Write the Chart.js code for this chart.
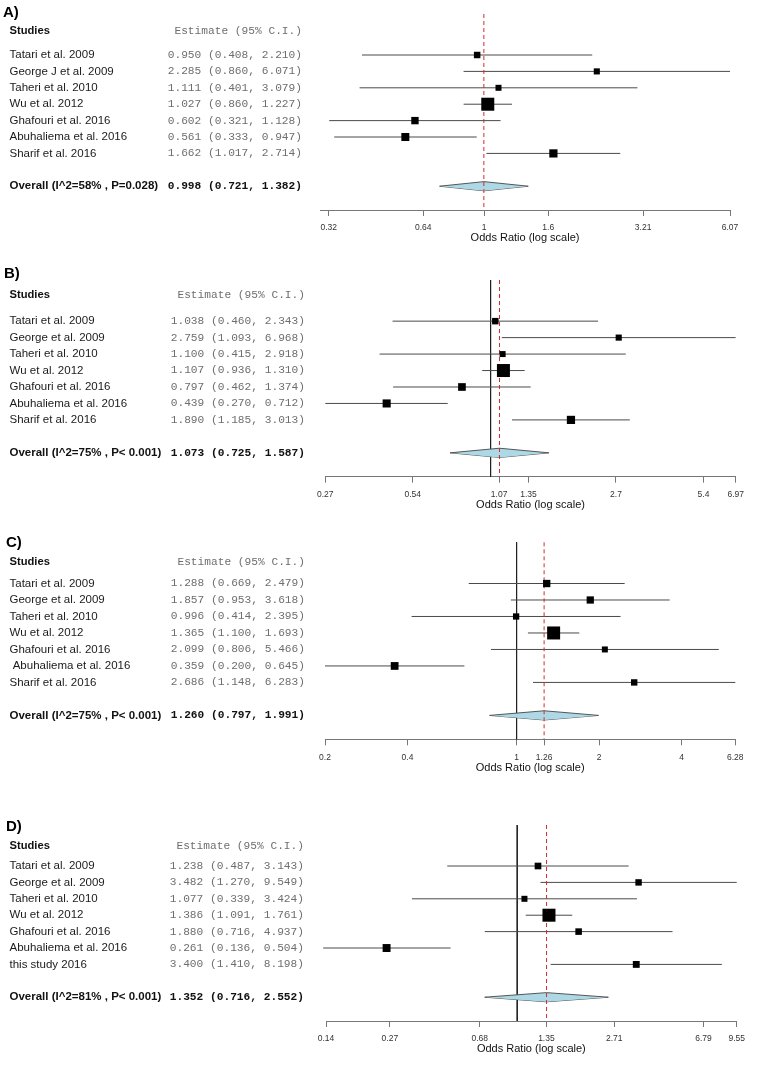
<!DOCTYPE html>
<html>
<head>
<meta charset="utf-8">
<script src="https://cdn.jsdelivr.net/npm/chart.js@4.4.0/dist/chart.umd.min.js"></script>
<style>
html,body{margin:0;padding:0;background:#fff;}
body{width:768px;height:1071px;position:relative;overflow:hidden;}
canvas{position:absolute;left:0;}
</style>
</head>
<body>
<canvas id="cA" width="768" height="262" style="top:0px;width:768px;height:262px"></canvas>
<canvas id="cB" width="768" height="266" style="top:262px;width:768px;height:266px"></canvas>
<canvas id="cC" width="768" height="272" style="top:528px;width:768px;height:272px"></canvas>
<canvas id="cD" width="768" height="271" style="top:800px;width:768px;height:271px"></canvas>
<script>
// ---------------- DATA ----------------
// Panel A
const studiesA = ["Tatari et al. 2009", "George J et al. 2009", "Taheri et al. 2010", "Wu et al. 2012", "Ghafouri et al. 2016", "Abuhaliema et al. 2016", "Sharif et al. 2016"];
const orA = [0.950, 2.285, 1.111, 1.027, 0.602, 0.561, 1.662];
const loA = [0.408, 0.860, 0.401, 0.860, 0.321, 0.333, 1.017];
const hiA = [2.210, 6.071, 3.079, 1.227, 1.128, 0.947, 2.714];
const overallA = [0.998, 0.721, 1.382];
const overallLabelA = "Overall (I^2=58% , P=0.028)";
const ticksA = [0.32, 0.64, 1, 1.6, 3.21, 6.07];

// Panel B
const studiesB = ["Tatari et al. 2009", "George et al. 2009", "Taheri et al. 2010", "Wu et al. 2012", "Ghafouri et al. 2016", "Abuhaliema et al. 2016", "Sharif et al. 2016"];
const orB = [1.038, 2.759, 1.100, 1.107, 0.797, 0.439, 1.890];
const loB = [0.460, 1.093, 0.415, 0.936, 0.462, 0.270, 1.185];
const hiB = [2.343, 6.968, 2.918, 1.310, 1.374, 0.712, 3.013];
const overallB = [1.073, 0.725, 1.587];
const overallLabelB = "Overall (I^2=75% , P< 0.001)";
const ticksB = [0.27, 0.54, 1.07, 1.35, 2.7, 5.4, 6.97];

// Panel C
const studiesC = ["Tatari et al. 2009", "George et al. 2009", "Taheri et al. 2010", "Wu et al. 2012", "Ghafouri et al. 2016", " Abuhaliema et al. 2016", "Sharif et al. 2016"];
const orC = [1.288, 1.857, 0.996, 1.365, 2.099, 0.359, 2.686];
const loC = [0.669, 0.953, 0.414, 1.100, 0.806, 0.200, 1.148];
const hiC = [2.479, 3.618, 2.395, 1.693, 5.466, 0.645, 6.283];
const overallC = [1.260, 0.797, 1.991];
const overallLabelC = "Overall (I^2=75% , P< 0.001)";
const ticksC = [0.2, 0.4, 1, 1.26, 2, 4, 6.28];

// Panel D
const studiesD = ["Tatari et al. 2009", "George et al. 2009", "Taheri et al. 2010", "Wu et al. 2012", "Ghafouri et al. 2016", "Abuhaliema et al. 2016", "this study 2016"];
const orD = [1.238, 3.482, 1.077, 1.386, 1.880, 0.261, 3.400];
const loD = [0.487, 1.270, 0.339, 1.091, 0.716, 0.136, 1.410];
const hiD = [3.143, 9.549, 3.424, 1.761, 4.937, 0.504, 8.198];
const overallD = [1.352, 0.716, 2.552];
const overallLabelD = "Overall (I^2=81% , P< 0.001)";
const ticksD = [0.14, 0.27, 0.68, 1.35, 2.71, 6.79, 9.55];

// ---------------- LAYOUT / STYLE ----------------
const SANS = '"Liberation Sans", Arial, sans-serif';
const MONO = '"Liberation Mono", "Courier New", monospace';
const Y_MAX = 9.5, Y_MIN = -2.45, OVERALL_ROW = -1, DIAMOND_H = 0.28, NAME_X = 9.5;

function fmt(a, b, c) { return a.toFixed(3) + " (" + b.toFixed(3) + ", " + c.toFixed(3) + ")"; }

// box side from inverse-variance weight of each study (derived from its CI)
function boxSides(lo, hi) {
  const s = lo.map((l, i) => Math.sqrt(3.92 / (Math.log(hi[i]) - Math.log(l))));
  const mn = Math.min(...s), mx = Math.max(...s);
  return s.map(v => 6 + 7 * (v - mn) / (mx - mn));
}

function buildPanel(p) {
  const canvas = document.getElementById(p.canvas);
  const n = p.studies.length;
  const rowsY = p.studies.map((_, i) => n - i);
  const sides = boxSides(p.lo, p.hi);
  const [est, dlo, dhi] = p.overall;
  const datasets = [];
  datasets.push({
    data: p.or.map((v, i) => ({x: v, y: rowsY[i]})),
    pointStyle: 'rect', pointRadius: sides.map(s => s / Math.SQRT2),
    pointBackgroundColor: '#000', pointBorderWidth: 0, showLine: false, order: 1, clip: false
  });
  datasets.push({
    data: [{x: est, y: Y_MAX}, {x: est, y: Y_MIN}], showLine: true,
    borderColor: '#d42a2a', borderWidth: 1, borderDash: [4, 3], pointRadius: 0, order: 2, clip: false
  });
  datasets.push({
    data: [{x: dlo, y: OVERALL_ROW}, {x: est, y: OVERALL_ROW + DIAMOND_H}, {x: dhi, y: OVERALL_ROW}],
    showLine: true, fill: '+1', backgroundColor: '#add8e6', borderColor: '#555', borderWidth: 1,
    pointRadius: 0, order: 3, clip: false
  });
  datasets.push({
    data: [{x: dlo, y: OVERALL_ROW}, {x: est, y: OVERALL_ROW - DIAMOND_H}, {x: dhi, y: OVERALL_ROW}],
    showLine: true, fill: false, borderColor: '#555', borderWidth: 1,
    pointRadius: 0, order: 3, clip: false
  });
  p.lo.forEach((l, i) => datasets.push({
    data: [{x: l, y: rowsY[i]}, {x: p.hi[i], y: rowsY[i]}], showLine: true,
    borderColor: '#4a4a4a', borderWidth: 1, pointRadius: 0, order: 4, clip: false
  }));
  if (p.refLine) datasets.push({
    data: [{x: 1, y: Y_MAX}, {x: 1, y: Y_MIN}], showLine: true,
    borderColor: '#222', borderWidth: 1, pointRadius: 0, order: 5, clip: false
  });

  const textPlugin = {
    id: 'forestText' + p.canvas,
    afterDraw(chart) {
      const ctx = chart.ctx;
      const ys = chart.scales.y;
      const yp = v => ys.getPixelForValue(v);
      ctx.save();
      ctx.textBaseline = 'middle';
      ctx.textAlign = 'left';
      ctx.fillStyle = '#000';
      ctx.font = 'bold 15px ' + SANS;
      ctx.fillText(p.tag, p.tagX, yp(p.tagRow));
      const hy = yp(n + p.headOff);
      ctx.font = 'bold 11.2px ' + SANS;
      ctx.fillStyle = '#111';
      ctx.fillText('Studies', NAME_X, hy);
      ctx.textAlign = 'right';
      ctx.font = '11.2px ' + MONO;
      ctx.fillStyle = '#6e6e6e';
      ctx.fillText('Estimate (95% C.I.)', p.estRight, hy);
      p.studies.forEach((s, i) => {
        const y = yp(rowsY[i]);
        ctx.textAlign = 'left';
        ctx.font = '11.5px ' + SANS;
        ctx.fillStyle = '#1a1a1a';
        ctx.fillText(s, NAME_X, y);
        ctx.textAlign = 'right';
        ctx.font = '11.2px ' + MONO;
        ctx.fillStyle = '#6e6e6e';
        ctx.fillText(fmt(p.or[i], p.lo[i], p.hi[i]), p.estRight, y);
      });
      const oy = yp(OVERALL_ROW);
      ctx.textAlign = 'left';
      ctx.font = 'bold 11.5px ' + SANS;
      ctx.fillStyle = '#111';
      ctx.fillText(p.overallLabel, NAME_X, oy);
      ctx.textAlign = 'right';
      ctx.font = 'bold 11.2px ' + MONO;
      ctx.fillStyle = '#111';
      ctx.fillText(fmt(est, dlo, dhi), p.estRight, oy);
      ctx.restore();
    }
  };

  new Chart(canvas, {
    type: 'scatter',
    data: {datasets},
    plugins: [textPlugin],
    options: {
      responsive: false, animation: false, events: [],
      layout: {padding: {left: p.xLeft, right: 768 - p.xRight, top: p.padTop, bottom: p.padBottom}},
      plugins: {legend: {display: false}, tooltip: {enabled: false}},
      scales: {
        x: {
          type: 'logarithmic', position: 'bottom',
          min: p.ticks[0], max: p.ticks[p.ticks.length - 1],
          afterBuildTicks: s => { s.ticks = p.ticks.map(v => ({value: v})); },
          afterFit: s => { s.height = 40; },
          grid: {display: true, drawOnChartArea: false, drawTicks: true, tickLength: 6, color: '#777', lineWidth: 1},
          border: {display: true, color: '#777', width: 1},
          ticks: {
            autoSkip: false, maxRotation: 0, minRotation: 0, padding: 7, color: '#333',
            font: {family: SANS, size: 8.5},
            callback: (v, i) => String(p.ticks[i])
          },
          title: {display: true, text: 'Odds Ratio (log scale)', color: '#111',
                  font: {family: SANS, size: 11}, padding: {top: 0, bottom: 5}}
        },
        y: {type: 'linear', display: false, min: Y_MIN, max: Y_MAX}
      }
    }
  });
}

buildPanel({canvas: 'cA', studies: studiesA, or: orA, lo: loA, hi: hiA, overall: overallA, overallLabel: overallLabelA, ticks: ticksA,
  tag: 'A)', tagX: 3, tagRow: 9.55, headOff: 1.46, estRight: 302, refLine: false,
  xLeft: 320, xRight: 730, padTop: 14, padBottom: 12});
buildPanel({canvas: 'cB', studies: studiesB, or: orB, lo: loB, hi: hiB, overall: overallB, overallLabel: overallLabelB, ticks: ticksB,
  tag: 'B)', tagX: 4, tagRow: 9.85, headOff: 1.59, estRight: 305, refLine: true,
  xLeft: 325.3, xRight: 735.7, padTop: 18, padBottom: 11.3});
buildPanel({canvas: 'cC', studies: studiesC, or: orC, lo: loC, hi: hiC, overall: overallC, overallLabel: overallLabelC, ticks: ticksC,
  tag: 'C)', tagX: 6, tagRow: 9.46, headOff: 1.28, estRight: 305, refLine: true,
  xLeft: 325, xRight: 735.3, padTop: 14.3, padBottom: 20.7});
buildPanel({canvas: 'cD', studies: studiesD, or: orD, lo: loD, hi: hiD, overall: overallD, overallLabel: overallLabelD, ticks: ticksD,
  tag: 'D)', tagX: 6, tagRow: 9.4, headOff: 1.24, estRight: 304, refLine: true,
  xLeft: 326, xRight: 736.7, padTop: 25, padBottom: 10});
</script>
</body>
</html>
